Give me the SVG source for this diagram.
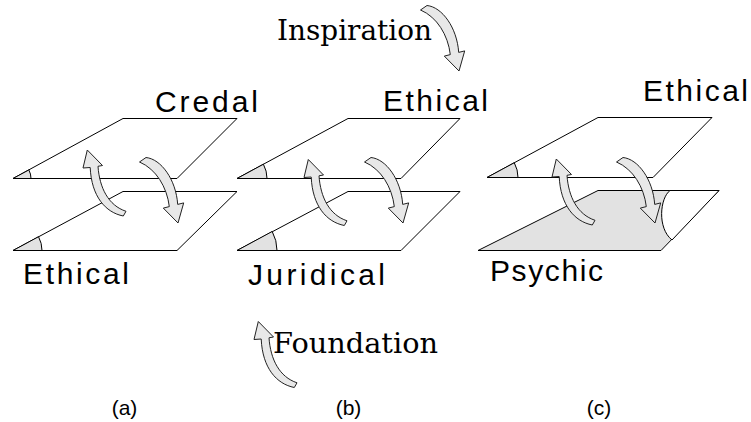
<svg xmlns="http://www.w3.org/2000/svg" xmlns:xlink="http://www.w3.org/1999/xlink" width="751" height="422" viewBox="0 0 751 422">
<style>
.plane{fill:#fff;stroke:#000;stroke-width:1}
.wedge{fill:#e2e2e2;stroke:#000;stroke-width:1}
.shade{fill:#e2e2e2;stroke:#000;stroke-width:1}
.arr{fill:#e8e8e8;stroke:#222;stroke-width:1;stroke-linejoin:miter}
.lbl{font-family:"Liberation Sans",Arial,sans-serif;font-size:30px;fill:#000}
.ser{font-family:"DejaVu Serif","Liberation Serif",serif;font-size:28px;fill:#000}
.cap{font-family:"Liberation Sans",Arial,sans-serif;font-size:21px;fill:#000;text-anchor:middle}
</style>
<defs>
<path id="arrDown" d="M146,157.5 C161,159 176,179.5 177.7,204.4 L183.7,202.9 L178,223 L163.3,208.1 L169.3,206.6 C167,187 156,169 139.5,162 Z"/>
<path id="arrUp" d="M87.3,150 L102.5,165.5 L98,166.3 C99.5,188 108.5,205.5 126,211.3 L123.3,216 C105.5,212.5 91.5,196.5 90.2,167.5 L83,168 Z"/>
</defs>
<rect width="751" height="422" fill="#fff"/>

<g id="panel-a">
 <g id="a-top">
  <path class="plane" d="M13,178.5 L123,118.5 L237,118.5 L177,178.5 Z"/>
  <path class="wedge" d="M13,178.5 L31,178.5 A18,18 0 0 0 28.84,169.93 Z"/>
 </g>
 <g id="a-bottom">
  <path class="plane" d="M13,250.5 L123,191.5 L237,191.5 L177,250.5 Z"/>
  <path class="wedge" d="M13,250.5 L42,250.5 A29,29 0 0 0 38.52,236.7 Z"/>
 </g>
 <text id="a-label-top" class="lbl" x="155" y="112" textLength="103" lengthAdjust="spacing">Credal</text>
 <text id="a-label-bottom" class="lbl" x="23" y="284" textLength="106" lengthAdjust="spacing">Ethical</text>
 <text id="a-caption" class="cap" x="124.5" y="415">(a)</text>
</g>

<g id="panel-b">
 <g id="b-top">
  <path class="plane" d="M237,178.5 L348,118.5 L460,118.5 L401,178.5 Z"/>
  <path class="wedge" d="M237,178.5 L267,178.5 A30,30 0 0 0 263.4,164.22 Z"/>
 </g>
 <g id="b-bottom">
  <path class="plane" d="M237,250.5 L348,191.5 L460,191.5 L401,250.5 Z"/>
  <path class="wedge" d="M237,250.5 L277,250.5 A40,40 0 0 0 272.2,231.46 Z"/>
 </g>
 <text id="b-label-top" class="lbl" x="383" y="111" textLength="105" lengthAdjust="spacing">Ethical</text>
 <text id="b-label-bottom" class="lbl" x="248" y="285" textLength="137" lengthAdjust="spacing">Juridical</text>
 <text id="b-inspiration" class="ser" x="277" y="40" textLength="155" lengthAdjust="spacingAndGlyphs">Inspiration</text>
 <text id="b-foundation" class="ser" x="273" y="353" textLength="165" lengthAdjust="spacingAndGlyphs">Foundation</text>
 <text id="b-caption" class="cap" x="348.5" y="415">(b)</text>
</g>

<g id="panel-c">
 <g id="c-top">
  <path class="plane" d="M487,177.5 L598,117.5 L712,117.5 L653,177.5 Z"/>
  <path class="wedge" d="M487,177.5 L518,177.5 A31,31 0 0 0 514.28,162.74 Z"/>
 </g>
 <g id="c-bottom">
  <path class="shade" d="M478,250.5 L598,190.5 L719,190.5 L661,250.5 Z"/>
  <path fill="#fff" stroke="#000" stroke-width="1" d="M670,190.5 L719,190.5 L672,240 C657,228 660,198 670,190.5 Z"/>
 </g>
 <text id="c-label-top" class="lbl" x="643" y="101" textLength="105" lengthAdjust="spacing">Ethical</text>
 <text id="c-label-bottom" class="lbl" x="490" y="281" textLength="113" lengthAdjust="spacing">Psychic</text>
 <text id="c-caption" class="cap" x="599" y="415">(c)</text>
</g>

<g id="connectors">
 <use xlink:href="#arrUp" class="arr" transform="translate(0,0)"/>
 <use xlink:href="#arrDown" class="arr" transform="translate(0,0)"/>
 <use xlink:href="#arrUp" class="arr" transform="translate(221,9.5)"/>
 <use xlink:href="#arrDown" class="arr" transform="translate(225,0)"/>
 <use xlink:href="#arrUp" class="arr" transform="translate(469,9)"/>
 <use xlink:href="#arrDown" class="arr" transform="translate(477,0)"/>
 <use xlink:href="#arrDown" class="arr" transform="translate(281,-152)"/>
 <use xlink:href="#arrUp" class="arr" transform="translate(171,171.5)"/>
</g>
</svg>
